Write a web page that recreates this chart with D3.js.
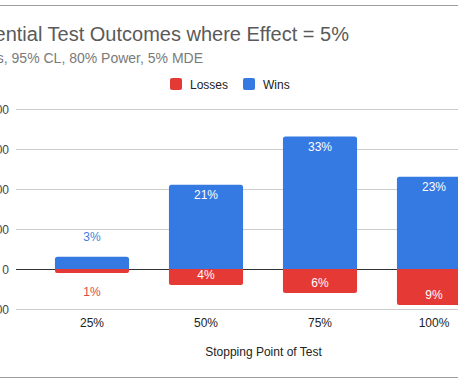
<!DOCTYPE html>
<html><head><meta charset="utf-8">
<script src="https://cdn.jsdelivr.net/npm/d3@7"></script>
<style>html,body{margin:0;padding:0;background:#fff;overflow:hidden}svg{display:block}text{font-family:Arial,"Liberation Sans",Helvetica,sans-serif}</style>
</head><body>
<script>
const categories = ["25%", "50%", "75%", "100%"];
const wins = [30, 210, 330, 230];
const losses = [-10, -40, -60, -90];
const winLabels = ["3%", "21%", "33%", "23%"];
const lossLabels = ["1%", "4%", "6%", "9%"];
const yTicks = [-100, 0, 100, 200, 300, 400];
const title = "Sequential Test Outcomes where Effect = 5%";
const subtitle = "1,000 Tests, 95% CL, 80% Power, 5% MDE";
const xTitle = "Stopping Point of Test";
const seriesNames = ["Losses", "Wins"];

const W = 458, H = 382;
const blue = "#3579e3", red = "#e53935";
const svg = d3.select("body").append("svg").attr("width", W).attr("height", H);

// frame lines
svg.append("line").attr("x1",0).attr("x2",W).attr("y1",5.5).attr("y2",5.5).attr("stroke","#9e9e9e");
svg.append("line").attr("x1",0).attr("x2",W).attr("y1",377.5).attr("y2",377.5).attr("stroke","#9e9e9e");

const x = d3.scaleBand().domain(categories).range([35, 491]).paddingInner(0.35).paddingOuter(0.175);
const y = d3.scaleLinear().domain([-100, 400]).range([309, 108.5]);

// title
svg.append("text").attr("x",349).attr("y",41).attr("text-anchor","end")
  .attr("font-size",20).attr("fill","#5a5a5a").text(title);
svg.append("text").attr("x",203).attr("y",63).attr("text-anchor","end")
  .attr("font-size",14).attr("fill","#7a7a7a").text(subtitle);

// legend
const leg = [{name:seriesNames[0], c:red, x:170}, {name:seriesNames[1], c:blue, x:243}];
leg.forEach(l => {
  svg.append("rect").attr("x",l.x).attr("y",78).attr("width",12).attr("height",12).attr("rx",2).attr("fill",l.c);
  svg.append("text").attr("x",l.x+20).attr("y",88.5).attr("font-size",12).attr("fill","#222").text(l.name);
});

// gridlines + y ticks
const gy = svg.append("g");
yTicks.forEach(t => {
  const yy = Math.round(y(t)) + 0.5;
  gy.append("line").attr("x1",16).attr("x2",510).attr("y1",yy).attr("y2",yy)
    .attr("stroke", t === 0 ? "#333" : "#cccccc");
  gy.append("text").attr("x",9).attr("y",yy+4).attr("text-anchor","end")
    .attr("font-size",12).attr("fill","#444").text(d3.format("d")(t));
});

// rounded-end bar path
function barPath(x0, w, yBase, yEnd, r) {
  const up = yEnd < yBase;
  const h = Math.abs(yEnd - yBase);
  r = Math.min(r, h/2, w/2);
  if (up) {
    return `M${x0},${yBase} V${yEnd+r} Q${x0},${yEnd} ${x0+r},${yEnd} H${x0+w-r} Q${x0+w},${yEnd} ${x0+w},${yEnd+r} V${yBase} Z`;
  } else {
    return `M${x0},${yBase} V${yEnd-r} Q${x0},${yEnd} ${x0+r},${yEnd} H${x0+w-r} Q${x0+w},${yEnd} ${x0+w},${yEnd-r} V${yBase} Z`;
  }
}

const bw = x.bandwidth();
categories.forEach((c, i) => {
  const x0 = x(c);
  const cx = x0 + bw/2;
  const y0 = y(0);
  // wins
  const yw = y(wins[i]);
  svg.append("path").attr("d", barPath(x0, bw, y0, yw, 2.5)).attr("fill", blue);
  // losses
  const yl = y(losses[i]);
  svg.append("path").attr("d", barPath(x0, bw, y0, yl, 2.5)).attr("fill", red);
  // win label
  const hw = y0 - yw;
  if (hw > 20) {
    svg.append("text").attr("x",cx).attr("y",yw+14.5).attr("text-anchor","middle")
      .attr("font-size",12).attr("fill","#fff").text(winLabels[i]);
  } else {
    svg.append("text").attr("x",cx).attr("y",yw-16).attr("text-anchor","middle")
      .attr("font-size",12).attr("fill","#3d7fe0").text(winLabels[i]);
  }
  const hl = yl - y0;
  if (hl > 10) {
    svg.append("text").attr("x",cx).attr("y",yl-5.5).attr("text-anchor","middle")
      .attr("font-size",12).attr("fill","#fff").text(lossLabels[i]);
  } else {
    svg.append("text").attr("x",cx).attr("y",yl+23.5).attr("text-anchor","middle")
      .attr("font-size",12).attr("fill","#e04a45").text(lossLabels[i]);
  }
  // x tick label
  svg.append("text").attr("x",cx).attr("y",327).attr("text-anchor","middle")
    .attr("font-size",12).attr("fill","#222").text(c);
});

svg.append("text").attr("x",263.5).attr("y",356).attr("text-anchor","middle")
  .attr("font-size",12).attr("fill","#222").text(xTitle);
</script>
</body></html>
